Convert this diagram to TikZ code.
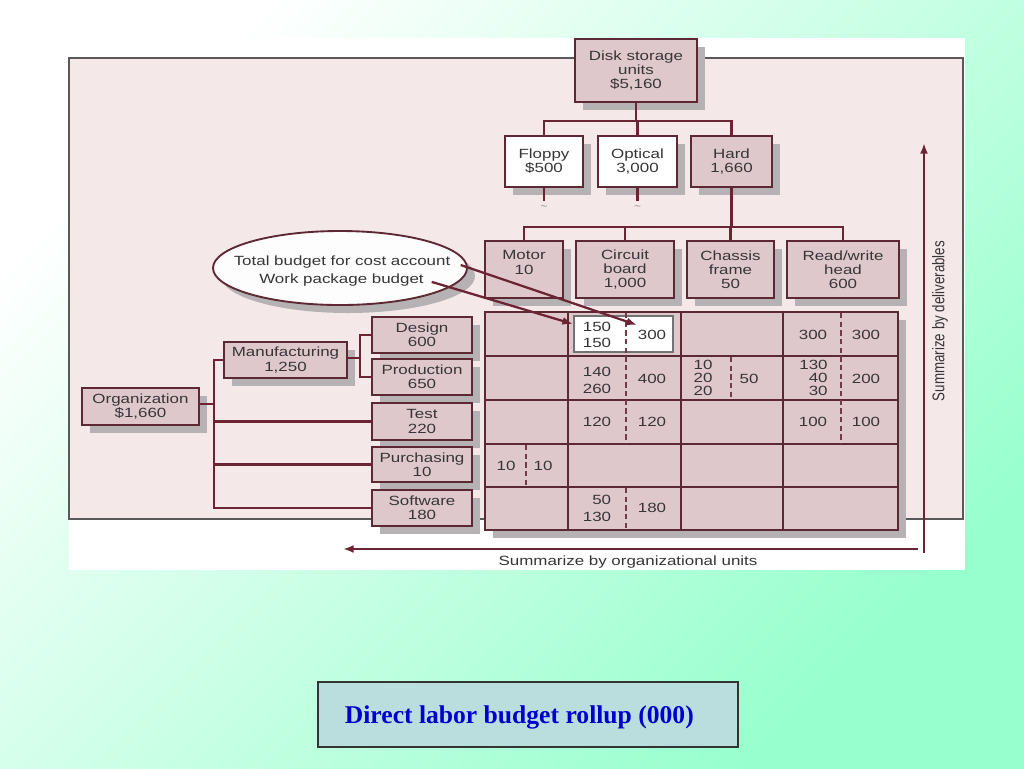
\documentclass[tikz,border=0pt]{standalone}
\usepackage{fontspec}
\setmainfont{Liberation Sans}
\newfontfamily\figfont{Liberation Sans}[FakeStretch=1.27]
\newfontfamily\plainsans{Liberation Sans}
\newfontfamily\capfont{Liberation Serif}
\usetikzlibrary{arrows.meta,shadows,shapes.geometric}

\definecolor{boxfill}{RGB}{223,200,204}
\definecolor{framefill}{RGB}{245,232,233}
\definecolor{maroon}{RGB}{108,36,52}
\definecolor{boxline}{RGB}{92,40,52}
\definecolor{shadowgray}{RGB}{182,178,179}
\definecolor{txt}{RGB}{55,53,55}
\definecolor{mint}{RGB}{150,255,205}
\definecolor{capfill}{RGB}{186,222,222}
\definecolor{capblue}{RGB}{0,0,205}

\newcommand\bxfont{\figfont\fontsize{10}{10.6}\selectfont}
\newcommand\nmfont{\figfont\fontsize{10}{12.4}\selectfont}
\newcommand\nmthree{\figfont\fontsize{10}{9.8}\selectfont}

% rectangle node from corner coordinates (pixels): style, name, x1, y1, x2, y2, text
\newcommand\rbox[7]{%
  \pgfmathsetmacro\rbcx{(#3+#5)/2}%
  \pgfmathsetmacro\rbcy{(#4+#6)/2}%
  \pgfmathsetmacro\rbww{(#5-#3)*0.75}%
  \pgfmathsetmacro\rbhh{(#6-#4)*0.75}%
  \node[#1, minimum width=\rbww pt, minimum height=\rbhh pt] (#2) at (\rbcx,\rbcy) {#7};}

\tikzset{
  shad/.style={drop shadow={shadow xshift=6pt, shadow yshift=-6pt, fill=shadowgray, opacity=1}},
  box/.style={draw=boxline, line width=1.6pt, fill=boxfill, text=txt, font=\bxfont,
              align=center, inner sep=0pt, shad},
  wbox/.style={box, fill=white},
  conn/.style={draw=maroon, line width=2pt},
  gridline/.style={draw=boxline, line width=1.2pt},
  dashsep/.style={draw=maroon!75!gray, line width=0.9pt, dash pattern=on 4pt off 2.5pt},
  num/.style={text=txt, font=\nmfont, align=center, inner sep=0pt},
  numthree/.style={text=txt, font=\nmthree, align=center, inner sep=0pt},
  lbl/.style={text=txt, font=\bxfont, inner sep=1pt},
  tip/.style={-{Latex[length=8pt,width=6pt]}},
  tilde/.style={text=gray, font=\figfont\fontsize{7}{7}\selectfont, inner sep=0pt}
}

\begin{document}
\begin{tikzpicture}[x=0.75pt,y=-0.75pt]
\useasboundingbox (0,0) rectangle (1024,768);
% background
\shade[top color=white, bottom color=mint, shading angle=45] (0,0) rectangle (1024,768);
\fill[white] (69,38) rectangle (965,570);
\draw[draw=black!65, line width=1.2pt, fill=framefill] (69,58) rectangle (963,519);

% summarize arrows
\coordinate (vbot) at (924,553);
\coordinate (vtop) at (924,143);
\draw[conn, tip] (vbot) -- (vtop);
\node[rotate=90, text=txt, inner sep=0pt] (sdel) at (940,321)
  {\scalebox{1}[1.27]{\plainsans\fontsize{10}{10}\selectfont Summarize by deliverables}};
\coordinate (hright) at (918,549);
\coordinate (hleft) at (343,549);
\draw[conn, tip] (hright) -- (hleft);
\node[lbl] (sorg) at (628,562) {Summarize by organizational units};

% deliverables tree
\rbox{box}{disk}{575}{39}{697}{102}{Disk storage\\units\\\$5,160}
\rbox{wbox}{floppy}{505}{136}{583}{187}{Floppy\\\$500}
\rbox{wbox}{optical}{598}{136}{677}{187}{Optical\\3,000}
\rbox{box}{hard}{691}{136}{772}{187}{Hard\\1,660}
\rbox{box}{motor}{485}{241}{563}{298}{Motor\\10\\\phantom{0}}
\rbox{box}{circuit}{576}{241}{674}{298}{Circuit\\board\\1,000}
\rbox{box}{chassis}{687}{241}{774}{298}{Chassis\\frame\\50}
\rbox{box}{rw}{787}{241}{899}{298}{Read/write\\head\\600}

\coordinate (busA) at (636,121);
\draw[conn] (floppy.north) |- (busA) -| (hard.north);
\draw[conn] (disk.south) -- (busA);
\draw[conn] (optical.north) -- (optical.north |- busA);
\draw[conn] (floppy.south) -- ++(0,13) coordinate (fstub);
\draw[conn] (optical.south) -- ++(0,13) coordinate (ostub);
\node[tilde, below=3pt] (ftil) at (fstub) {\textasciitilde};
\node[tilde, below=3pt] (otil) at (ostub) {\textasciitilde};

\coordinate (busB) at (731.5,227);
\draw[conn] (motor.north) |- (busB) -| (rw.north);
\draw[conn] (hard.south) -- (busB);
\draw[conn] (circuit.north) -- (circuit.north |- busB);
\draw[conn] (chassis.north) -- (chassis.north |- busB);

% organization tree
\rbox{box}{org}{82}{388}{199}{425}{Organization\\\$1,660}
\rbox{box}{mfg}{224}{342}{347}{378}{Manufacturing\\1,250}
\rbox{box}{design}{372}{317}{472}{353}{Design\\600}
\rbox{box}{prod}{372}{359}{472}{395}{Production\\650}
\rbox{box}{test}{372}{403}{472}{440}{Test\\220}
\rbox{box}{purch}{372}{447}{472}{482}{Purchasing\\10}
\rbox{box}{soft}{372}{490}{472}{526}{Software\\180}

\coordinate (obus) at (214,404);
\draw[conn] (mfg.west) -| (obus) |- (soft.west);
\draw[conn] (org.east |- obus) -- (obus);
\draw[conn] (test.west) -- (test.west -| obus);
\draw[conn] (purch.west) -- (purch.west -| obus);
\coordinate (mbus) at (360,358);
\draw[conn] (design.west) -| (mbus) |- (prod.west);
\draw[conn] (mfg.east |- mbus) -- (mbus);

% matrix
\rbox{box}{grid}{485}{312}{898}{530}{}
\foreach \yy in {356,400,444,487} \draw[gridline] (485,\yy) -- (898,\yy);
\foreach \xx in {568,681,783} \draw[gridline] (\xx,312) -- (\xx,530);
\rbox{draw=black!55, fill=white, line width=0.9pt, inner sep=0pt}{wcell}{574}{316}{673}{352}{}
\draw[dashsep] (626,313) -- (626,444);
\draw[dashsep] (626,488) -- (626,529);
\draw[dashsep] (731,357) -- (731,399);
\draw[dashsep] (841,313) -- (841,444);
\draw[dashsep] (526,445) -- (526,486);

\node[num] (a1) at (597,335) {150\\150};
\node[num] (a2) at (652,335) {300};
\node[num] (a3) at (813,335) {300};
\node[num] (a4) at (866,335) {300};
\node[num, font=\figfont\fontsize{10}{12.8}\selectfont] (b1) at (597,380) {140\\260};
\node[num] (b2) at (652,379) {400};
\node[numthree] (b3) at (703,378) {10\\20\\20};
\node[num] (b4) at (749,379) {50};
\node[numthree, align=right] (b5) at (813.5,378) {130\\40\\30};
\node[num] (b6) at (866,379) {200};
\node[num] (c1) at (597,422) {120};
\node[num] (c2) at (652,422) {120};
\node[num] (c3) at (813,422) {100};
\node[num] (c4) at (866,422) {100};
\node[num] (d1) at (506,466) {10};
\node[num] (d2) at (543,466) {10};
\node[num, align=right, font=\figfont\fontsize{10}{12.8}\selectfont] (e1) at (597,508.5) {50\\130};
\node[num] (e2) at (652,508) {180};

% callout
\node[ellipse, draw=boxline, line width=1.4pt, fill=white!93!framefill, inner sep=0pt,
      minimum width=190.5pt, minimum height=55.5pt, shad] (callout) at (340,268) {};
\node[lbl] (t1) at (342,262) {Total budget for cost account};
\node[lbl] (t2) at (341.5,280) {Work package budget};
\coordinate (ca) at (637,325);
\coordinate (wp) at (573,324);
\draw[conn, line width=1.7pt, tip, shorten <=7pt] (t1.east) -- (ca);
\draw[conn, line width=1.7pt, tip, shorten <=5pt] (t2.east) -- (wp);

% caption
\rbox{draw=black!80, line width=0.8pt, fill=capfill, inner sep=0pt, text=capblue,
      font=\capfont\bfseries\fontsize{19.2}{22}\selectfont}{caption}{318}{682}{738}{747}
      {\hspace*{-13pt}\raisebox{-2.5pt}[\height][\depth]{Direct labor budget rollup (000)}}
\end{tikzpicture}
\end{document}
